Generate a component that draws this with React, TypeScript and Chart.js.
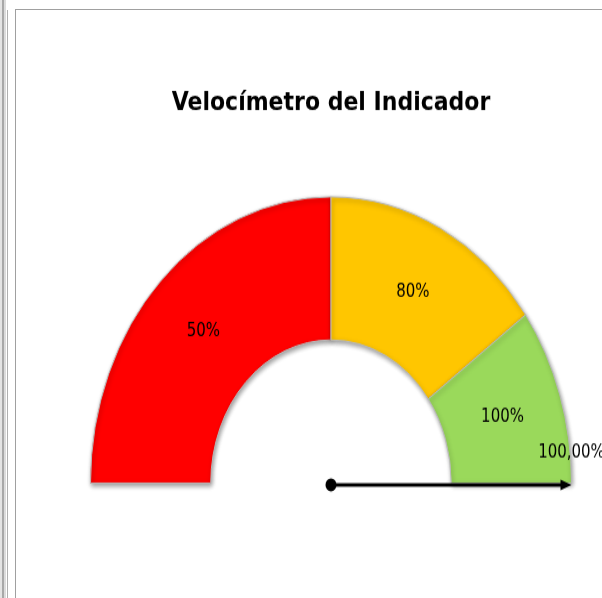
import React, { useEffect, useRef } from 'react';
import { Chart, registerables } from 'chart.js';

Chart.register(...registerables);

const TITLE = 'Velocímetro del Indicador';
const SEGMENT_LABELS = ['50%', '80%', '100%'];
const SEGMENT_VALUES = [50, 30, 20];
const SEGMENT_COLORS = ['#FF0000', '#FFC600', '#9AD95B'];
const NEEDLE_VALUES = [100];
const NEEDLE_LABELS = ['100,00%'];
const GAUGE_MAX = 100;

const shadowPlugin = {
  id: 'gaugeShadow',
  beforeDatasetsDraw(chart: any) {
    const ctx = chart.ctx;
    ctx.save();
    ctx.shadowColor = 'rgba(0,0,0,0.4)';
    ctx.shadowBlur = 4;
    ctx.shadowOffsetX = 1;
    ctx.shadowOffsetY = 2;
  },
  afterDatasetsDraw(chart: any) {
    chart.ctx.restore();
  },
};

const labelPlugin = {
  id: 'gaugeLabels',
  afterDatasetsDraw(chart: any) {
    const ctx = chart.ctx;
    const meta = chart.getDatasetMeta(0);
    ctx.save();
    ctx.font = '15px "DejaVu Sans"';
    ctx.fillStyle = '#000';
    ctx.textAlign = 'center';
    ctx.textBaseline = 'middle';
    meta.data.forEach((arc: any, i: number) => {
      const p = arc.getCenterPoint();
      ctx.fillText(String(chart.data.labels[i]), p.x, p.y);
    });
    ctx.restore();
  },
};

const needlePlugin = {
  id: 'gaugeNeedle',
  afterDatasetsDraw(chart: any) {
    const ctx = chart.ctx;
    const arc: any = chart.getDatasetMeta(0).data[0];
    if (!arc) return;
    const cx = arc.x;
    const cy = arc.y + 1.5;
    const R = arc.outerRadius;
    NEEDLE_VALUES.forEach((v, i) => {
      const ang = -Math.PI + (Math.PI * v) / GAUGE_MAX;
      const ex = cx + Math.cos(ang) * R;
      const ey = cy + Math.sin(ang) * R;
      ctx.save();
      ctx.strokeStyle = '#000';
      ctx.fillStyle = '#000';
      ctx.lineWidth = 3;
      ctx.beginPath();
      ctx.moveTo(cx, cy);
      ctx.lineTo(ex - Math.cos(ang) * 6, ey - Math.sin(ang) * 6);
      ctx.stroke();
      ctx.beginPath();
      ctx.arc(cx, cy, 5.5, 0, Math.PI * 2);
      ctx.fill();
      const hl = 11;
      const hw = 4.5;
      ctx.beginPath();
      ctx.moveTo(ex, ey);
      ctx.lineTo(ex - Math.cos(ang) * hl - Math.sin(ang) * hw, ey - Math.sin(ang) * hl + Math.cos(ang) * hw);
      ctx.lineTo(ex - Math.cos(ang) * hl + Math.sin(ang) * hw, ey - Math.sin(ang) * hl - Math.cos(ang) * hw);
      ctx.closePath();
      ctx.fill();
      ctx.font = '15px "DejaVu Sans"';
      ctx.fillStyle = '#000';
      ctx.textAlign = 'center';
      ctx.textBaseline = 'middle';
      ctx.fillText(NEEDLE_LABELS[i], ex, ey - 27);
      ctx.restore();
    });
  },
};

export default function App() {
  const canvasRef = useRef<HTMLCanvasElement | null>(null);

  useEffect(() => {
    if (!canvasRef.current) return;
    const chart = new Chart(canvasRef.current, {
      type: 'doughnut',
      data: {
        labels: SEGMENT_LABELS,
        datasets: [
          {
            data: SEGMENT_VALUES,
            backgroundColor: SEGMENT_COLORS,
            borderColor: '#b8b8b8',
            borderWidth: 1,
          },
        ],
      },
      options: {
        responsive: false,
        animation: false,
        events: [],
        rotation: -90,
        circumference: 180,
        cutout: '50%',
        layout: { padding: { left: 74, right: 74, top: 0, bottom: 96 } },
        plugins: {
          legend: { display: false },
          tooltip: { enabled: false },
          title: {
            display: true,
            text: TITLE,
            color: '#000',
            font: { family: '"DejaVu Sans"', size: 22, weight: 'bold' },
            padding: { top: 65, bottom: 65 },
          },
        },
      },
      plugins: [shadowPlugin, labelPlugin, needlePlugin],
    } as any);
    return () => chart.destroy();
  }, []);

  return (
    <div
      style={{
        position: 'absolute',
        left: 0,
        top: 0,
        width: 602,
        height: 598,
        overflow: 'hidden',
        background: '#fff',
      }}
    >
      <div style={{ position: 'absolute', left: 0, top: 0, width: 2, height: 598, background: '#e4e4e4' }} />
      <div style={{ position: 'absolute', left: 2, top: 0, width: 2, height: 598, background: '#a8a8a8' }} />
      <div style={{ position: 'absolute', left: 4, top: 0, width: 2, height: 598, background: '#dcdcdc' }} />
      <div style={{ position: 'absolute', left: 7, top: 10, width: 1, height: 588, background: '#b0b0b0' }} />
      <div
        style={{
          position: 'absolute',
          left: 15,
          top: 9,
          width: 700,
          height: 700,
          borderLeft: '1px solid #a0a0a0',
          borderTop: '1px solid #a0a0a0',
        }}
      />
      <canvas
        ref={canvasRef}
        width={630}
        height={494}
        style={{ position: 'absolute', left: 16, top: 10, width: 630, height: 588 }}
      />
    </div>
  );
}
